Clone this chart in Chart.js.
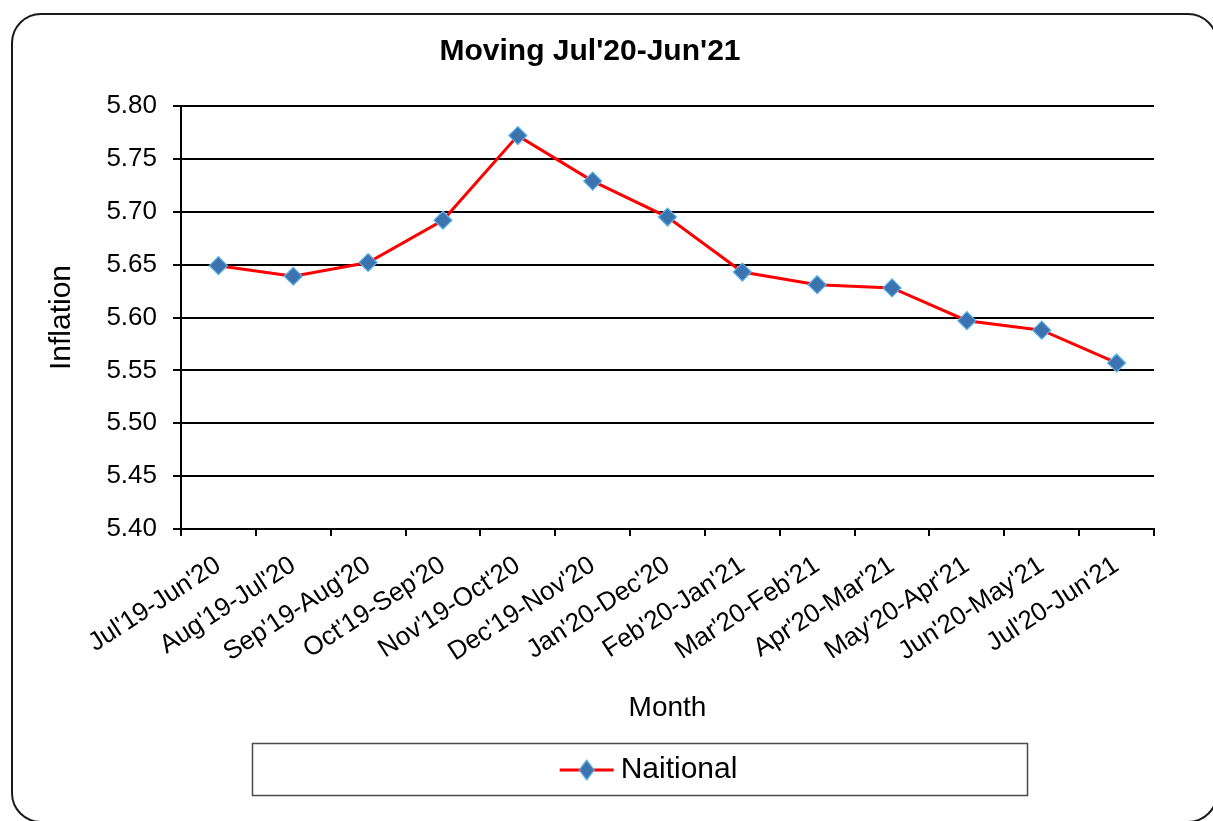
<!DOCTYPE html>
<html>
<head>
<meta charset="utf-8">
<script src="https://cdn.jsdelivr.net/npm/chart.js@4/dist/chart.umd.min.js"></script>
<style>
  html, body { margin: 0; padding: 0; background: #fff; }
  #wrap { position: relative; width: 1213px; height: 821px; overflow: hidden; }
  #frame {
    position: absolute; left: 11px; top: 13px; width: 1207px; height: 810px;
    box-sizing: border-box; border: 2px solid #1a1a1a; border-radius: 30px;
    pointer-events: none;
  }
  #box { position: absolute; left: 0; top: 0; width: 1213px; height: 821px; }
</style>
</head>
<body>
<div id="wrap">
  <div id="frame"></div>
  <div id="box"><canvas id="inflationChart"></canvas></div>
</div>
<script>
// --- data ---
const months = [
  "Jul'19-Jun'20", "Aug'19-Jul'20", "Sep'19-Aug'20", "Oct'19-Sep'20",
  "Nov'19-Oct'20", "Dec'19-Nov'20", "Jan'20-Dec'20", "Feb'20-Jan'21",
  "Mar'20-Feb'21", "Apr'20-Mar'21", "May'20-Apr'21", "Jun'20-May'21",
  "Jul'20-Jun'21"
];
const nationalValues = [
  5.649, 5.639, 5.652, 5.692, 5.772, 5.729, 5.695,
  5.643, 5.631, 5.628, 5.597, 5.588, 5.557
];
const yMin = 5.40;
const yMax = 5.80;
const yStep = 0.05;

const FONT = "'Liberation Sans', Arial, sans-serif";
const LINE_RED = '#ff0000';
const MARK_FILL = '#3c72ae';
const MARK_EDGE = '#58b2e8';

// legend marker: red line with a diamond on it
const legendMarker = (() => {
    const c = document.createElement('canvas');
    c.width = 56; c.height = 24;
    const g = c.getContext('2d');
    g.strokeStyle = LINE_RED;
    g.lineWidth = 3;
    g.beginPath(); g.moveTo(1, 12); g.lineTo(55, 12); g.stroke();
    g.beginPath();
    g.moveTo(28, 2); g.lineTo(35.5, 12); g.lineTo(28, 22); g.lineTo(20.5, 12); g.closePath();
    g.fillStyle = MARK_FILL; g.fill();
    g.strokeStyle = MARK_EDGE; g.lineWidth = 1.2; g.stroke();
    return c;
})();

// legend frame box under the plot
const FRAME_LEFT = 252;
const FRAME_RIGHT = 1027;

const legendFrame = {
    id: 'legendFrame',
    afterLayout(chart) {
        const lg = chart.legend;
        lg.left = FRAME_LEFT + 26;   // nudge the item toward where it sits in the original
        lg.right = FRAME_RIGHT;
    },
    afterDraw(chart) {
        const lg = chart.legend;
        const ctx = chart.ctx;
        ctx.save();
        ctx.strokeStyle = '#4a4a4a';
        ctx.lineWidth = 1.5;
        ctx.strokeRect(FRAME_LEFT + 0.5, lg.top + 0.5, FRAME_RIGHT - FRAME_LEFT, lg.bottom - lg.top);
        ctx.restore();
    }
};

new Chart(document.getElementById('inflationChart'), {
    type: 'line',
    data: {
        labels: months,
        datasets: [{
            label: 'Naitional',
            data: nationalValues,
            borderColor: LINE_RED,
            borderWidth: 3,
            tension: 0,
            pointStyle: 'rectRot',
            pointRadius: 9,
            pointHoverRadius: 9,
            pointBackgroundColor: MARK_FILL,
            pointBorderColor: MARK_EDGE,
            pointBorderWidth: 1.2
        }]
    },
    options: {
        responsive: true,
        maintainAspectRatio: false,
        animation: false,
        layout: { padding: { left: 26, right: 59, top: 0, bottom: 26 } },
        scales: {
            x: {
                offset: true,
                afterFit: (s) => { s.height = 214; },
                grid: {
                    offset: true,
                    drawOnChartArea: false,
                    drawTicks: true,
                    tickLength: 7,
                    color: '#000',
                    lineWidth: 2
                },
                border: { color: '#000', width: 2 },
                ticks: {
                    color: '#000',
                    font: { family: FONT, size: 26 },
                    minRotation: 33,
                    maxRotation: 33,
                    autoSkip: false,
                    padding: 14
                },
                title: {
                    display: true,
                    text: 'Month',
                    color: '#000',
                    font: { family: FONT, size: 28 },
                    padding: { top: 0, bottom: 18 }
                }
            },
            y: {
                min: yMin,
                max: yMax,
                afterFit: (s) => { s.width = 155; },
                grid: {
                    color: '#000',
                    lineWidth: 2,
                    drawTicks: true,
                    tickLength: 8
                },
                border: { color: '#000', width: 2 },
                ticks: {
                    stepSize: yStep,
                    color: '#000',
                    padding: 16,
                    font: { family: FONT, size: 26 },
                    callback: (v) => Number(v).toFixed(2)
                },
                title: {
                    display: true,
                    text: 'Inflation',
                    color: '#000',
                    font: { family: FONT, size: 30 },
                    padding: { top: 18, bottom: 0 }
                }
            }
        },
        plugins: {
            title: {
                display: true,
                text: "Moving Jul'20-Jun'21",
                color: '#000',
                font: { family: FONT, size: 30, weight: 'bold' },
                padding: { top: 34, bottom: 36 }
            },
            legend: {
                position: 'bottom',
                labels: {
                    color: '#000',
                    font: { family: FONT, size: 30 },
                    usePointStyle: true,
                    pointStyleWidth: 38,
                    boxWidth: 38,
                    padding: 12,
                    generateLabels: (chart) => [{
                        text: 'Naitional',
                        pointStyle: legendMarker,
                        fillStyle: MARK_FILL,
                        strokeStyle: LINE_RED,
                        lineWidth: 0,
                        fontColor: '#000',
                        hidden: false,
                        datasetIndex: 0
                    }]
                }
            },
            tooltip: { enabled: false }
        }
    },
    plugins: [legendFrame]
});
</script>
</body>
</html>
